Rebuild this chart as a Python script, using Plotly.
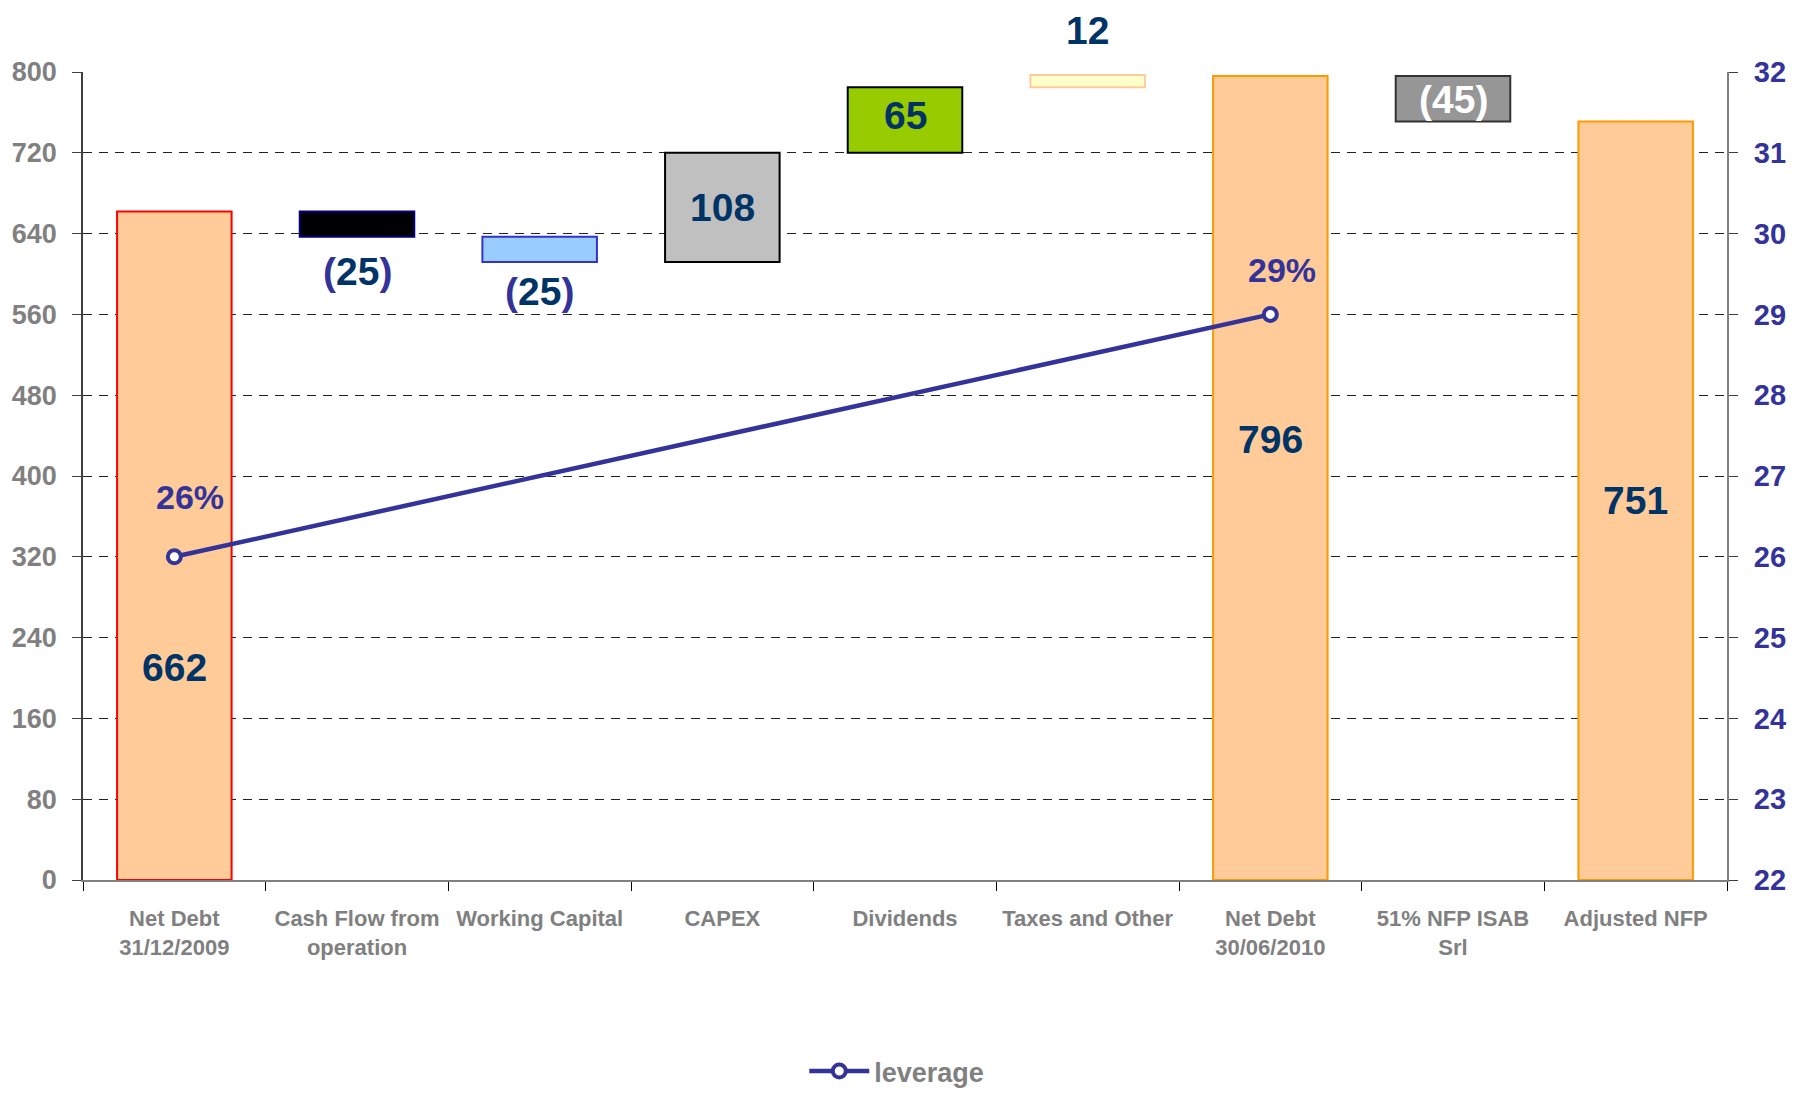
import plotly.graph_objects as go

# ---------------- data ----------------
categories = [
    "Net Debt<br>31/12/2009",
    "Cash Flow from<br>operation",
    "Working Capital",
    "CAPEX",
    "Dividends",
    "Taxes and Other",
    "Net Debt<br>30/06/2010",
    "51% NFP ISAB<br>Srl",
    "Adjusted NFP",
]
amounts = [662, -25, -25, 108, 65, 12, 796, -45, 751]
kinds = ["total", "delta", "delta", "delta", "delta", "delta", "total", "delta", "total"]

leverage_cats = ["Net Debt<br>31/12/2009", "Net Debt<br>30/06/2010"]
leverage_vals = [26, 29]
leverage_labels = ["26%", "29%"]

y_ticks = [0, 80, 160, 240, 320, 400, 480, 560, 640, 720, 800]
y2_ticks = [22, 23, 24, 25, 26, 27, 28, 29, 30, 31, 32]

# ---------------- styles ----------------
fills = ["#FFCC99", "#000000", "#99CCFF", "#C0C0C0", "#99CC00", "#FFFFCC", "#FFCC99", "#969696", "#FFCC99"]
outlines = ["#FF0000", "#000080", "#3333CC", "#000000", "#000000", "#FFCC99", "#FF9900", "#333333", "#FF9900"]
label_colors = ["#003366"] * 7 + ["#FFFFFF", "#003366"]
paren_colors = ["#333399"] * 7 + ["#FFFFFF", "#333399"]
label_shift_px = [-121, -47, -42, 0, 4, 50, 38, -1, 0]  # pixel shift from bar middle

FONT = "Liberation Sans, Arial, sans-serif"

# ---------------- waterfall geometry ----------------
bases, heights = [], []
running = 0
for amt, k in zip(amounts, kinds):
    if k == "total":
        bases.append(0)
        heights.append(amt)
        running = amt
    else:
        new = running + amt
        bases.append(min(running, new))
        heights.append(abs(amt))
        running = new

fig = go.Figure()
fig.add_trace(go.Bar(
    x=categories, y=heights, base=bases, width=0.627,
    marker=dict(color=fills, line=dict(color=outlines, width=2)),
    showlegend=False, hoverinfo="skip",
))

fig.add_trace(go.Scatter(
    x=leverage_cats, y=leverage_vals, yaxis="y2", name="leverage",
    mode="lines+markers",
    line=dict(color="#333399", width=4.5),
    marker=dict(symbol="circle", size=13, color="white", line=dict(color="#333399", width=4)),
))

annotations = []
for i, (c, amt) in enumerate(zip(categories, amounts)):
    mid = bases[i] + heights[i] / 2
    if amt < 0:
        txt = (f"<span style='color:{paren_colors[i]}'>(</span>"
               f"{abs(amt)}<span style='color:{paren_colors[i]}'>)</span>")
    else:
        txt = str(amt)
    annotations.append(dict(
        x=c, y=mid, yshift=label_shift_px[i] * 1.01, xref="x", yref="y", text=f"<b>{txt}</b>",
        showarrow=False, font=dict(family=FONT, size=39, color=label_colors[i]),
        xanchor="center", yanchor="middle",
    ))

pct_shift = [(16, 60), (12, 44)]
for c, v, t, (dx, dy) in zip(leverage_cats, leverage_vals, leverage_labels, pct_shift):
    annotations.append(dict(
        x=c, y=v, xref="x", yref="y2", text=f"<b>{t}</b>", showarrow=False,
        xshift=dx, yshift=dy, font=dict(family=FONT, size=34, color="#333399"),
        xanchor="center", yanchor="middle",
    ))

fig.update_layout(
    width=1779, height=1083,
    margin=dict(l=75, r=60, t=64, b=211, autoexpand=False),
    plot_bgcolor="white", paper_bgcolor="white",
    font=dict(family=FONT),
    annotations=annotations,
    showlegend=True,
    legend=dict(
        orientation="h", x=0.495, xanchor="center", y=-0.237, yanchor="middle",
        font=dict(family=FONT, size=27, color="#808080", weight="bold"),
        itemwidth=60,
    ),
    xaxis=dict(
        type="category", categoryorder="array", categoryarray=categories,
        showline=True, linecolor="#808080", linewidth=2,
        ticks="outside", tickson="boundaries", ticklen=9, tickcolor="#000000",
        tickfont=dict(family=FONT, size=22, color="#808080", weight="bold"),
        tickangle=0, automargin=False,
        ticklabelstandoff=18,
        showgrid=False,
    ),
    yaxis=dict(
        range=[0, 800], tickvals=y_ticks, automargin=False,
        showline=True, linecolor="#404040", linewidth=1.5,
        ticks="outside", ticklen=9, tickcolor="#404040",
        tickfont=dict(family=FONT, size=27, color="#808080", weight="bold"),
        ticklabelstandoff=10,
        showgrid=True, gridcolor="#222222", gridwidth=1.2, griddash="9px,7px",
        zeroline=False,
    ),
    yaxis2=dict(
        range=[22, 32], tickvals=y2_ticks, overlaying="y", side="right", automargin=False,
        showline=True, linecolor="#808080", linewidth=2,
        ticks="outside", ticklen=9, tickcolor="#404040",
        tickfont=dict(family=FONT, size=29, color="#333399", weight="bold"),
        ticklabelstandoff=10,
        showgrid=False, zeroline=False,
    ),
)

fig.write_html("out.html")
